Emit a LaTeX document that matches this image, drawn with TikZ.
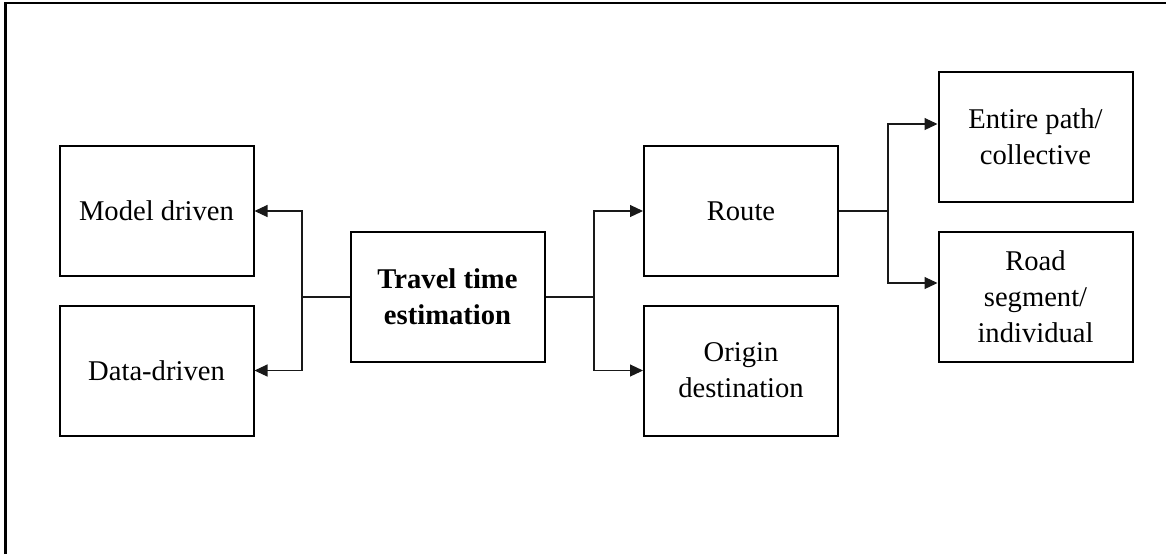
\documentclass[tikz,border=0pt]{standalone}
\usepackage{fontspec}
\setmainfont{Liberation Serif}
\usetikzlibrary{arrows.meta}

\begin{document}
\begin{tikzpicture}[x=0.5pt,y=-0.5pt,
   box/.style={draw,line width=1pt,minimum width=97pt,minimum height=65pt,align=center,
               font=\fontsize{14.3}{18}\selectfont},
   link/.style={draw=black!90,line width=0.55pt},
   tip/.style={-{Triangle[length=6.5pt,width=6pt]}}]
\useasboundingbox (0,0) rectangle (1166,554);
% frame
\draw[line width=1.3pt] (5.5,554) -- (5.5,3) -- (1166,3);
   \foreach \n/\x/\y/\t in
        {model/156.5/211/{Model driven},data/156.5/370.5/{Data-driven},
         travel/447.5/297/{\bfseries Travel time\\\bfseries estimation},
         route/741/211/{Route},origin/741/370.5/{Origin\\destination},
         entire/1035.5/137/{Entire path/\\collective},road/1035.5/297/{Road\\segment/\\individual}}
           \node[box](\n) at (\x,\y) {\t};
\coordinate (lsplit) at (302,297);
\coordinate (rsplit) at (594,297);
\coordinate (esplit) at (888,211);
\draw[link] (travel.west) -- (lsplit);
\draw[link,tip] (lsplit) |- (model.east);
\draw[link,tip] (lsplit) |- (data.east);

\draw[link] (travel.east) -- (rsplit);
\draw[link,tip] (rsplit) |- (route.west);
\draw[link,tip] (rsplit) |- (origin.west);

\draw[link] (route.east) -- (esplit);
\draw[link,tip] (esplit) |- ([yshift=6.5pt]entire.west);
\draw[link,tip] (esplit) |- ([yshift=7pt]road.west);
\end{tikzpicture}
\end{document}
